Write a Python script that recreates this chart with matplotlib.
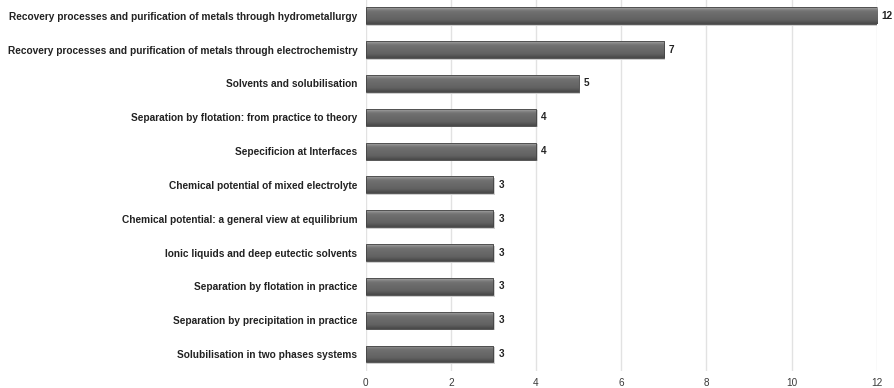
import numpy as np
import matplotlib
matplotlib.use("Agg")
import matplotlib.pyplot as plt
from matplotlib.colors import LinearSegmentedColormap

plt.rcParams["font.family"] = ["Liberation Sans", "DejaVu Sans"]

topics = [
    "Recovery processes and purification of metals through hydrometallurgy",
    "Recovery processes and purification of metals through electrochemistry",
    "Solvents and solubilisation",
    "Separation by flotation: from practice to theory",
    "Sepecificion at Interfaces",
    "Chemical potential of mixed electrolyte",
    "Chemical potential: a general view at equilibrium",
    "Ionic liquids and deep eutectic solvents",
    "Separation by flotation in practice",
    "Separation by precipitation in practice",
    "Solubilisation in two phases systems",
]
counts = [12, 7, 5, 4, 4, 3, 3, 3, 3, 3, 3]
xticks = [0, 2, 4, 6, 8, 10, 12]

fig = plt.figure(figsize=(8.94, 3.88), dpi=100)
ax = fig.add_axes([0.409, 0.044, 0.5717, 0.959])

ypos = np.arange(len(topics))[::-1]
bar_h = 0.5

# shaded gray fill: light rim on top, darker towards the bottom
shade = LinearSegmentedColormap.from_list(
    "bar_shade",
    [(0.0, "#b0b0b0"), (0.1, "#8a8a8a"), (0.25, "#707070"),
     (0.75, "#626262"), (1.0, "#474747")],
)
grad = np.linspace(0, 1, 64).reshape(-1, 1)

for y, v in zip(ypos, counts):
    # soft drop shadow
    ax.barh(y - 0.05, v + 0.04, height=bar_h, left=0.0, color="#cfcfcf",
            edgecolor="none", zorder=2)
    bars = ax.barh(y, v, height=bar_h, color="none", edgecolor="#444444",
                   linewidth=0.6, zorder=4)
    patch = bars[0]
    im = ax.imshow(grad, cmap=shade, aspect="auto", zorder=3,
                   extent=(0, v, y - bar_h / 2, y + bar_h / 2),
                   interpolation="bicubic")
    im.set_clip_path(patch)
    ax.text(v + 0.12, y, str(v), va="center", ha="left", fontsize=7.2,
            fontweight="bold", color="#222222")

ax.set_xlim(0, 12)
ax.set_ylim(-0.5, len(topics) - 0.5)
ax.set_xticks(xticks)
ax.set_xticklabels([str(t) for t in xticks], fontsize=7.2, color="#3a3a3a")
ax.set_yticks(ypos)
ax.set_yticklabels(topics, fontsize=7.3, fontweight="bold", color="#222222")
ax.tick_params(axis="both", length=0)
ax.tick_params(axis="x", pad=5)
ax.tick_params(axis="y", pad=6)
ax.xaxis.grid(True, color="#e2e2e2", linewidth=1.0, zorder=0)
ax.set_axisbelow(True)
for s in ax.spines.values():
    s.set_visible(False)

fig.savefig("out.png", dpi=100)
